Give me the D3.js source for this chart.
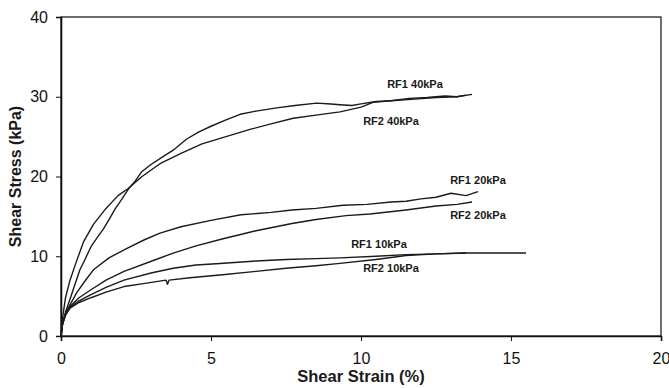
<!DOCTYPE html>
<html>
<head>
<meta charset="utf-8">
<script src="https://cdn.jsdelivr.net/npm/d3@7"></script>
<style>
  body { margin: 0; background: #fff; }
  svg { display: block; font-family: "Liberation Sans", Arial, sans-serif; }
</style>
</head>
<body>
<svg id="chart" width="669" height="388"></svg>
<script>
// values
var xTicks = [0, 5, 10, 15, 20];
var yTicks = [0, 10, 20, 30, 40];

var rf1_40_strain = [0, 0.05, 0.15, 0.3, 0.45, 0.63, 0.8, 1.0, 1.2, 1.41, 1.6, 1.8, 2.0, 2.24, 2.45, 2.69, 3.0, 3.4, 3.74, 4.19, 4.6, 5.0, 5.5, 5.97, 6.5, 7.19, 7.8, 8.52, 9.0, 9.3, 9.7, 10.0, 10.5, 11.0, 11.6, 12.2, 12.8, 13.2, 13.7];
var rf1_40_stress = [0, 1.5, 3.0, 4.6, 6.3, 8.3, 9.6, 11.2, 12.3, 13.4, 14.6, 15.9, 17.0, 18.4, 19.3, 20.6, 21.5, 22.5, 23.3, 24.7, 25.6, 26.3, 27.1, 27.8, 28.2, 28.6, 28.9, 29.2, 29.1, 29.0, 28.9, 29.1, 29.4, 29.5, 29.8, 29.9, 30.1, 30.0, 30.3];

var rf2_40_strain = [0, 0.05, 0.15, 0.3, 0.5, 0.75, 1.08, 1.5, 1.9, 2.24, 2.7, 3.3, 4.0, 4.7, 5.5, 6.3, 7.0, 7.74, 8.5, 9.3, 10.0, 10.4, 11.0, 11.8, 12.5, 13.2, 13.5];
var rf2_40_stress = [0, 2.2, 4.8, 7.0, 9.2, 11.8, 14.0, 16.0, 17.6, 18.5, 20.0, 21.6, 22.9, 24.1, 25.0, 25.9, 26.6, 27.3, 27.7, 28.1, 28.7, 29.3, 29.5, 29.7, 29.9, 30.0, 30.2];

var rf1_20_strain = [0, 0.05, 0.15, 0.3, 0.52, 0.8, 1.08, 1.6, 2.2, 2.8, 3.3, 4.0, 5.0, 6.0, 7.0, 7.7, 8.5, 9.4, 10.2, 11.0, 11.5, 12.0, 12.5, 13.0, 13.5, 13.9];
var rf1_20_stress = [0, 1.6, 2.8, 3.9, 5.4, 6.9, 8.3, 9.8, 11.0, 12.1, 12.9, 13.7, 14.5, 15.2, 15.5, 15.8, 16.0, 16.4, 16.5, 16.8, 16.9, 17.2, 17.4, 17.9, 17.6, 18.1];

var rf2_20_strain = [0, 0.05, 0.15, 0.3, 0.6, 1.0, 1.5, 2.1, 3.1, 3.74, 4.5, 5.4, 6.5, 7.7, 8.5, 9.5, 10.3, 11.5, 12.5, 13.2, 13.7];
var rf2_20_stress = [0, 1.6, 2.7, 3.7, 4.8, 5.8, 7.0, 8.1, 9.5, 10.4, 11.3, 12.2, 13.2, 14.1, 14.6, 15.1, 15.3, 15.8, 16.3, 16.5, 16.8];

var rf1_10_strain = [0, 0.05, 0.15, 0.3, 0.6, 1.0, 1.5, 2.1, 3.0, 3.74, 4.5, 5.3, 6.5, 7.5, 8.5, 9.3, 10.5, 11.5, 12.5, 13.5, 14.5, 15.5];
var rf1_10_stress = [0, 1.5, 2.7, 3.6, 4.4, 5.2, 6.1, 7.0, 7.9, 8.5, 8.9, 9.1, 9.4, 9.6, 9.7, 9.8, 10.0, 10.2, 10.3, 10.4, 10.4, 10.4];

var rf2_10_strain = [0, 0.05, 0.15, 0.3, 0.6, 1.0, 1.5, 2.1, 2.8, 3.5, 3.55, 3.6, 4.3, 5.3, 6.5, 7.5, 8.5, 9.3, 10.5, 11.5, 12.5, 13.5];
var rf2_10_stress = [0, 1.4, 2.6, 3.5, 4.2, 4.8, 5.5, 6.2, 6.6, 7.0, 6.5, 7.0, 7.3, 7.65, 8.1, 8.5, 8.8, 9.1, 9.6, 10.1, 10.3, 10.4];

var seriesNames = ["RF1 40kPa", "RF2 40kPa", "RF1 20kPa", "RF2 20kPa", "RF1 10kPa", "RF2 10kPa"];
var seriesStrain = [rf1_40_strain, rf2_40_strain, rf1_20_strain, rf2_20_strain, rf1_10_strain, rf2_10_strain];
var seriesStress = [rf1_40_stress, rf2_40_stress, rf1_20_stress, rf2_20_stress, rf1_10_stress, rf2_10_stress];
// label anchor points, in data units
var labelStrain = [11.8, 11.0, 13.9, 13.9, 10.6, 11.0];
var labelStress = [31.6, 27.0, 19.6, 15.1, 11.5, 8.5];

var margin = { top: 17, right: 8, bottom: 52, left: 61 };
var svg = d3.select("#chart");
var width = 669 - margin.left - margin.right;
var height = 388 - margin.top - margin.bottom;

var x = d3.scaleLinear().domain([0, 20]).range([0, width]);
var y = d3.scaleLinear().domain([0, 40]).range([height, 0]);

var g = svg.append("g")
  .attr("transform", "translate(" + margin.left + "," + margin.top + ")");

// frame (top and right edges)
g.append("rect")
  .attr("x", 0).attr("y", 0)
  .attr("width", width).attr("height", height)
  .attr("fill", "none")
  .attr("stroke", "#222")
  .attr("stroke-width", 1.3);

var yAxis = g.append("g")
  .call(d3.axisLeft(y).tickValues(yTicks).tickSize(5).tickPadding(8));
var xAxis = g.append("g")
  .attr("transform", "translate(0," + height + ")")
  .call(d3.axisBottom(x).tickValues(xTicks).tickSize(5).tickPadding(12));

[xAxis, yAxis].forEach(function(a) {
  a.select(".domain").attr("stroke", "#111").attr("stroke-width", 1.6);
  a.selectAll(".tick line").attr("stroke", "#111");
  a.selectAll(".tick text")
    .attr("fill", "#111")
    .style("font-size", "16px");
});

var line = d3.line()
  .x(function(d) { return x(d[0]); })
  .y(function(d) { return y(d[1]); });

seriesNames.forEach(function(name, i) {
  var pts = seriesStrain[i].map(function(s, j) { return [s, seriesStress[i][j]]; });
  g.append("path")
    .datum(pts)
    .attr("d", line)
    .attr("fill", "none")
    .attr("stroke", "#1a1a1a")
    .attr("stroke-width", 1.4)
    .attr("stroke-linejoin", "round");

  g.append("text")
    .attr("x", x(labelStrain[i]))
    .attr("y", y(labelStress[i]))
    .attr("text-anchor", "middle")
    .attr("dy", "0.35em")
    .style("font-size", "11px")
    .style("font-weight", "bold")
    .attr("fill", "#1a1a1a")
    .text(name);
});

svg.append("text")
  .attr("x", margin.left + x(10))
  .attr("y", 382)
  .attr("text-anchor", "middle")
  .style("font-size", "16.5px")
  .style("font-weight", "bold")
  .attr("fill", "#1a1a1a")
  .text("Shear Strain (%)");

svg.append("text")
  .attr("transform", "translate(21," + (margin.top + y(20)) + ") rotate(-90)")
  .attr("text-anchor", "middle")
  .style("font-size", "16px")
  .style("font-weight", "bold")
  .attr("fill", "#1a1a1a")
  .text("Shear Stress (kPa)");
</script>
</body>
</html>
